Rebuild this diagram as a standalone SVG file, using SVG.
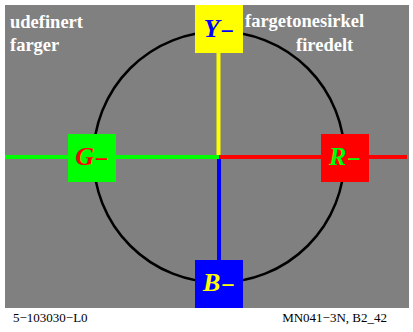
<svg xmlns="http://www.w3.org/2000/svg" width="413" height="332" viewBox="0 0 413 332">
<style>
.t{font-family:"Liberation Serif","Times New Roman",serif;font-weight:bold;font-size:18.5px;fill:#ffffff}
.lab{font-family:"Liberation Serif","Times New Roman",serif;font-weight:bold;font-style:italic;font-size:26px;text-anchor:middle}
.m{font-size:24px}
.ft{font-family:"Liberation Serif","Times New Roman",serif;font-size:13px;fill:#000000}
.ax{stroke-width:4;fill:none}
</style>
<rect x="0" y="0" width="413" height="332" fill="#ffffff"/>
<rect x="5" y="5" width="404" height="303" fill="#808080"/>
<circle cx="219" cy="157" r="125.5" fill="none" stroke="#000000" stroke-width="2.5"/>
<g id="connectors">
<line class="ax" x1="218.5" y1="53" x2="218.5" y2="157" stroke="#ffff00"/>
<line class="ax" x1="219" y1="157" x2="219" y2="260" stroke="#0000ff"/>
<line class="ax" x1="5" y1="157" x2="219" y2="157" stroke="#00ff00"/>
<line class="ax" x1="219" y1="157" x2="407" y2="157" stroke="#ff0000"/>
</g>
<g id="node-Y">
<rect x="195" y="5" width="48" height="48" fill="#ffff00"/>
<text class="lab" x="219" y="37" fill="#0000ff">Y<tspan class="m" dy="2">−</tspan></text>
</g>
<g id="node-G">
<rect x="68" y="134" width="48" height="48" fill="#00ff00"/>
<text class="lab" x="92" y="165" fill="#ff0000">G<tspan class="m" dy="2">−</tspan></text>
</g>
<g id="node-R">
<rect x="321" y="134" width="48" height="48" fill="#ff0000"/>
<text class="lab" x="345" y="165" fill="#00ff00">R<tspan class="m" dy="2">−</tspan></text>
</g>
<g id="node-B">
<rect x="195" y="260" width="48" height="48" fill="#0000ff"/>
<text class="lab" x="219" y="291" fill="#ffff00">B<tspan class="m" dy="2">−</tspan></text>
</g>
<text class="t" x="10" y="28">udefinert</text>
<text class="t" x="10" y="51">farger</text>
<text class="t" x="245" y="27">fargetonesirkel</text>
<text class="t" x="296" y="51">firedelt</text>
<text class="ft" x="13" y="322">5−103030−L0</text>
<text class="ft" x="387" y="322" text-anchor="end">MN041−3N, B2_42</text>
</svg>
